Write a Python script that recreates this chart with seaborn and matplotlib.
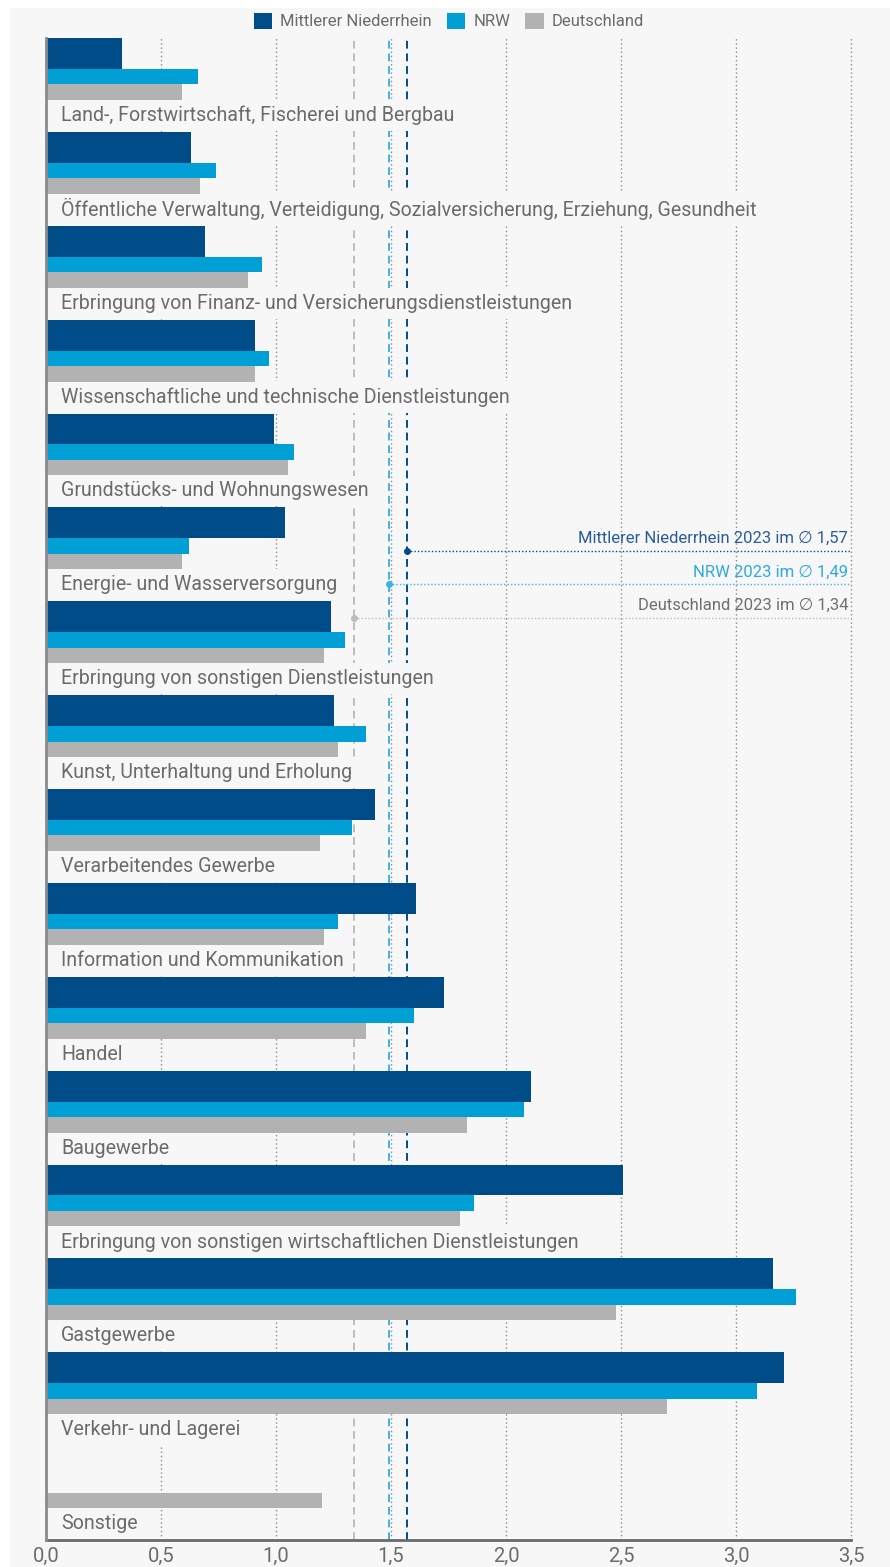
import numpy as np
import pandas as pd
import matplotlib
matplotlib.use("Agg")
import matplotlib.pyplot as plt
from matplotlib.patches import Rectangle, Patch
import seaborn as sns

# ---------------- data ----------------
categories = [
    "Land-, Forstwirtschaft, Fischerei und Bergbau",
    "Öffentliche Verwaltung, Verteidigung, Sozialversicherung, Erziehung, Gesundheit",
    "Erbringung von Finanz- und Versicherungsdienstleistungen",
    "Wissenschaftliche und technische Dienstleistungen",
    "Grundstücks- und Wohnungswesen",
    "Energie- und Wasserversorgung",
    "Erbringung von sonstigen Dienstleistungen",
    "Kunst, Unterhaltung und Erholung",
    "Verarbeitendes Gewerbe",
    "Information und Kommunikation",
    "Handel",
    "Baugewerbe",
    "Erbringung von sonstigen wirtschaftlichen Dienstleistungen",
    "Gastgewerbe",
    "Verkehr- und Lagerei",
    "Sonstige",
]
mn_values = [0.33, 0.63, 0.69, 0.91, 0.99, 1.04, 1.24, 1.25, 1.43, 1.61,
             1.73, 2.11, 2.51, 3.16, 3.21, np.nan]
nrw_values = [0.66, 0.74, 0.94, 0.97, 1.08, 0.62, 1.30, 1.39, 1.33, 1.27,
              1.60, 2.08, 1.86, 3.26, 3.09, np.nan]
de_values = [0.59, 0.67, 0.88, 0.91, 1.05, 0.59, 1.21, 1.27, 1.19, 1.21,
             1.39, 1.83, 1.80, 2.48, 2.70, 1.20]
series_names = ["Mittlerer Niederrhein", "NRW", "Deutschland"]
averages = [1.57, 1.49, 1.34]
avg_labels = ["Mittlerer Niederrhein 2023 im \u2205 1,57",
              "NRW 2023 im \u2205 1,49",
              "Deutschland 2023 im \u2205 1,34"]
x_ticks = [0.0, 0.5, 1.0, 1.5, 2.0, 2.5, 3.0, 3.5]
x_ticklabels = ["0,0", "0,5", "1,0", "1,5", "2,0", "2,5", "3,0", "3,5"]

# ---------------- style ----------------
sns.set_theme(style="white")
FONT = ["Roboto", "DejaVu Sans"]
plt.rcParams["font.family"] = FONT

C_MN = "#004c89"
C_NRW = "#009fd6"
C_DE = "#b2b2b2"
C_TXT = "#6b6b6b"
BG = "#f7f7f7"

fig = plt.figure(figsize=(8.9, 15.67), dpi=100, facecolor="white")
fig.patches.append(Rectangle((10 / 890, 0), 1, 1 - 8 / 1567,
                             transform=fig.transFigure, facecolor=BG,
                             edgecolor="none", zorder=-10))

ax = fig.add_axes([46 / 890, 1 - 1540 / 1567, 805 / 890, (1540 - 38) / 1567])
ax.set_facecolor("none")

n = len(categories)
idx = np.arange(n)

# bar geometry (group = 1 unit)
h_mn, h_nrw, h_de = 0.33, 0.165, 0.165
off_mn = h_mn / 2
off_nrw = h_mn + h_nrw / 2
off_de = h_mn + h_nrw + h_de / 2

specs = [
    (mn_values, off_mn, h_mn, C_MN),
    (nrw_values, off_nrw, h_nrw, C_NRW),
    (de_values, off_de, h_de, C_DE),
]
for vals, off, h, col in specs:
    df = pd.DataFrame({"value": vals, "pos": idx + off}).dropna()
    sns.barplot(data=df, x="value", y="pos", orient="h", native_scale=True,
                width=h, color=col, saturation=1, errorbar=None,
                linewidth=0, ax=ax, zorder=5.5)

# gridlines
for xv in x_ticks[1:]:
    ax.axvline(xv, color="#8c8c8c", lw=1.0, ls=(0, (1, 2)), zorder=1,
               clip_on=False)

# average lines
avg_colors = [C_MN, "#3cb4e6", "#bdbdbd"]
avg_txt_colors = ["#2a5d97", "#2eaade", "#6f6f6f"]
line_y = [5.466, 5.817, 6.18]
text_y = [5.33, 5.69, 6.04]
for a, c, tc, ly, ty, lab in zip(averages, avg_colors, avg_txt_colors,
                                 line_y, text_y, avg_labels):
    ax.axvline(a, color=c, lw=1.4, ls=(0, (4, 2.5)), zorder=1.5)
    ax.plot([a, 3.5], [ly, ly], color=c, lw=1.0, ls=(0, (1, 1.5)), zorder=2,
            clip_on=False)
    ax.plot([a], [ly], marker="o", ms=4, color=c, zorder=2.5)
    ax.text(3.487, ty, lab, ha="right", va="center", fontsize=12,
            color=tc, zorder=4, family=FONT)

# category labels
for i, cat in enumerate(categories):
    ax.text(0.065, i + 0.825, cat, ha="left", va="center", fontsize=14.1,
            color=C_TXT, zorder=5, family=FONT,
            bbox=dict(boxstyle="square,pad=0.3", facecolor=BG,
                      edgecolor="none"))

ax.set_xlim(0, 3.5)
ax.set_ylim(n, 0)
ax.set_xticks(x_ticks)
ax.set_xticklabels(x_ticklabels, fontsize=14.5, color=C_TXT, family=FONT)
ax.set_yticks([])
ax.set_xlabel("")
ax.set_ylabel("")
ax.tick_params(axis="x", length=0, pad=5)
for s in ["top", "right"]:
    ax.spines[s].set_visible(False)
ax.spines["left"].set_color("#8a8a8a")
ax.spines["left"].set_linewidth(2)
ax.spines["bottom"].set_color("#6a6a6a")
ax.spines["bottom"].set_linewidth(2)
ax.spines["left"].set_zorder(6)

handles = [Patch(facecolor=c, edgecolor="none") for c in (C_MN, C_NRW, C_DE)]
leg = fig.legend(handles, series_names, loc="center", ncol=3,
                 bbox_to_anchor=(449 / 890, 1 - 21 / 1567), frameon=False,
                 fontsize=12, handlelength=1.1, handleheight=1.1,
                 handletextpad=0.5, columnspacing=0.9)
for t in leg.get_texts():
    t.set_color(C_TXT)

fig.savefig("out.png", dpi=100, facecolor=fig.get_facecolor())
